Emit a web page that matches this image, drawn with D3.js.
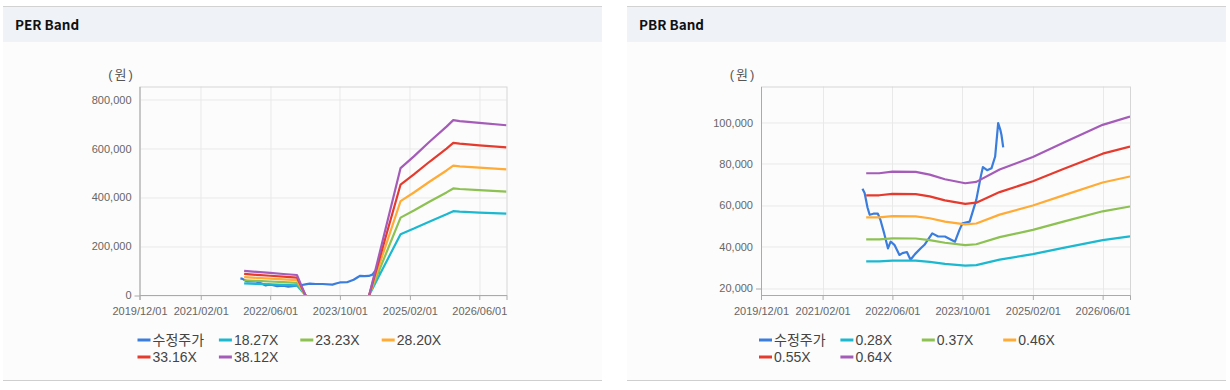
<!DOCTYPE html>
<meta charset="utf-8">
<style>
	body { margin: 0; background: #fff; }
	svg text { font-family: "Liberation Sans", Arial, "Noto Sans CJK KR", sans-serif; }
	.title { font-family: "Noto Sans CJK KR", "Noto Sans", sans-serif !important; font-weight: bold; font-size: 13.5px; fill: #111; }
	.axis text { font-size: 11px; fill: #666; }
	.grid line { stroke: #e9e9e9; }
	.legend text { font-size: 14px; fill: #444; }
</style>

<svg width="1230" height="390"></svg>

<script src="https://cdn.jsdelivr.net/npm/d3@7"></script>
<script>

	// 수정주가 (PER / PBR 공용)
	var price = [
		["2021-11-05", 68000], ["2021-11-20", 66000], ["2021-12-10", 59000], ["2021-12-25", 55500],
		["2022-01-20", 56000], ["2022-02-20", 56000], ["2022-03-10", 53000], ["2022-04-05", 46500],
		["2022-05-01", 39300], ["2022-05-20", 42500], ["2022-06-15", 41000], ["2022-07-20", 36100],
		["2022-08-10", 37000], ["2022-09-10", 37500], ["2022-10-05", 33800], ["2022-11-05", 36500],
		["2022-12-15", 39300], ["2023-01-10", 41000], ["2023-02-01", 43300], ["2023-03-05", 46500],
		["2023-04-15", 45000], ["2023-06-01", 45000], ["2023-08-10", 42500], ["2023-09-10", 48200],
		["2023-10-01", 51400], ["2023-11-20", 52200], ["2024-01-05", 62700], ["2024-02-05", 73900],
		["2024-02-20", 78500], ["2024-03-20", 77000], ["2024-04-20", 78000], ["2024-05-15", 83600],
		["2024-06-05", 99700], ["2024-06-20", 96500], ["2024-06-28", 94000], ["2024-07-10", 88000]
	];

	// EPS (원)
	var eps = [
		["2021-12-01", 2600], ["2022-03-01", 2480], ["2022-06-01", 2380], ["2022-09-01", 2260],
		["2022-12-05", 2150], ["2023-03-01", -1000], ["2024-04-07", -1000], ["2024-11-28", 13650],
		["2025-03-01", 14900], ["2025-06-20", 16500], ["2025-10-15", 18100], ["2025-12-01", 18800],
		["2026-01-15", 18700], ["2026-06-01", 18500], ["2026-12-08", 18250]
	];

	// BPS (원)
	var bps = [
		["2021-12-01", 118000], ["2022-03-01", 118000], ["2022-06-01", 119200], ["2022-11-10", 119000],
		["2023-02-15", 117000], ["2023-06-01", 113500], ["2023-10-20", 110500], ["2024-01-05", 111500],
		["2024-06-15", 120800], ["2025-02-01", 130300], ["2025-09-01", 141000], ["2026-06-01", 154500],
		["2026-12-08", 160800]
	];

	var perMultiples = [18.27, 23.23, 28.20, 33.16, 38.12];
	var pbrMultiples = [0.28, 0.37, 0.46, 0.55, 0.64];

	var dateTicks = ["2019-12-01", "2021-02-01", "2022-06-01", "2023-10-01", "2025-02-01", "2026-06-01"];
	var dateDomain = ["2019-12-01", "2026-12-08"];
	var perTicks = [0, 200000, 400000, 600000, 800000];
	var pbrTicks = [20000, 40000, 60000, 80000, 100000];

	var colors = ["#3b7ddd", "#1cb8cf", "#8dc152", "#ffab35", "#e53b2e", "#a45cb8"];

	var parse = d3.timeParse("%Y-%m-%d");
	var svg = d3.select("svg");

	function drawPanel(opt) {
		var p = svg.append("g").attr("transform", "translate(" + opt.left + ",0)");

		// 패널 배경 + 헤더
		p.append("rect").attr("x", 0).attr("y", 6).attr("width", 599).attr("height", 375).attr("fill", "#fcfcfc");
		p.append("rect").attr("x", 0).attr("y", 6).attr("width", 599).attr("height", 36).attr("fill", "#eff3f8");
		p.append("line").attr("x1", 0).attr("x2", 599).attr("y1", 6.5).attr("y2", 6.5).attr("stroke", "#d2d2d2");
		p.append("line").attr("x1", 0).attr("x2", 599).attr("y1", 380.5).attr("y2", 380.5).attr("stroke", "#cfcfcf");
		p.append("text").attr("class", "title").attr("x", 12).attr("y", 30).text(opt.title);

		var margin = {left: opt.plotLeft, top: 86.5, width: opt.plotWidth, height: 208.5};
		var g = p.append("g").attr("transform", "translate(" + margin.left + "," + margin.top + ")");
		var width = margin.width, height = margin.height;

		var x = d3.scaleTime().domain(dateDomain.map(parse)).range([0, width]);
		var y = d3.scaleLinear().domain(opt.yDomain).range([height, 0]);

		// 그리드
		g.append("g").attr("class", "grid")
			.selectAll("line.v").data(dateTicks.map(parse)).enter().append("line")
			.attr("x1", function(d) { return Math.round(x(d)) + 0.5; })
			.attr("x2", function(d) { return Math.round(x(d)) + 0.5; })
			.attr("y1", 0).attr("y2", height);
		g.append("g").attr("class", "grid")
			.selectAll("line.h").data(opt.yTicks).enter().append("line")
			.attr("x1", 0).attr("x2", width)
			.attr("y1", function(d) { return Math.round(y(d)) + 0.5; })
			.attr("y2", function(d) { return Math.round(y(d)) + 0.5; });

		// 테두리
		g.append("rect").attr("x", 0.5).attr("y", 0.5).attr("width", width).attr("height", height)
			.attr("fill", "none").attr("stroke", "#d6d6d6");

		// 축
		var xAxis = g.append("g").attr("class", "axis")
			.attr("transform", "translate(0," + height + ")")
			.call(d3.axisBottom(x).tickValues(dateTicks.map(parse)).tickFormat(d3.timeFormat("%Y/%m/%d")).tickSize(5).tickPadding(7));
		var yAxis = g.append("g").attr("class", "axis")
			.call(d3.axisLeft(y).tickValues(opt.yTicks).tickFormat(d3.format(",")).tickSize(0).tickPadding(8));
		g.selectAll(".axis .domain").attr("stroke", "#aaa");
		xAxis.selectAll(".tick line").attr("stroke", "#aaa");
		g.append("line").attr("x1", -5).attr("x2", 0)
			.attr("y1", Math.round(y(opt.yTicks[0])) + 0.5).attr("y2", Math.round(y(opt.yTicks[0])) + 0.5)
			.attr("stroke", "#aaa");

		p.append("text").attr("x", opt.plotLeft - 18).attr("y", 79).attr("text-anchor", "middle")
			.attr("font-size", 13).attr("fill", "#555").attr("letter-spacing", "2px").text("(원)");

		// 라인
		var clipId = "clip" + opt.left;
		g.append("clipPath").attr("id", clipId).append("rect").attr("width", width).attr("height", height);
		var line = d3.line().x(function(d) { return x(parse(d[0])); }).y(function(d) { return y(d[1]); });

		var series = [{name: "수정주가", values: price}].concat(opt.multiples.map(function(m) {
			return {name: opt.fmt(m) + "X", values: opt.base.map(function(d) { return [d[0], d[1] * m]; })};
		}));

		g.append("g").attr("clip-path", "url(#" + clipId + ")")
			.selectAll("path").data(series).enter().append("path")
			.attr("d", function(d) { return line(d.values); })
			.attr("fill", "none")
			.attr("stroke", function(d, i) { return colors[i]; })
			.attr("stroke-width", 2.2)
			.attr("stroke-linejoin", "round");

		// 범례
		var legend = p.append("g").attr("class", "legend")
			.selectAll("g").data(series).enter().append("g")
			.attr("transform", function(d, i) {
				return "translate(" + (opt.plotLeft - 2 + (i % 4) * 81.4) + "," + (i < 4 ? 340 : 357) + ")";
			});
		legend.append("rect").attr("x", 0).attr("y", -1.5).attr("width", 13).attr("height", 3)
			.attr("fill", function(d, i) { return colors[i]; });
		legend.append("text").attr("x", 15).attr("y", 5).text(function(d) { return d.name; });
	}

	drawPanel({left: 3, title: "PER Band", plotLeft: 136.5, plotWidth: 367, yDomain: [0, 854600],
		yTicks: perTicks, multiples: perMultiples, base: eps, fmt: d3.format(".2f")});
	drawPanel({left: 627, title: "PBR Band", plotLeft: 134, plotWidth: 369, yDomain: [16770, 117400],
		yTicks: pbrTicks, multiples: pbrMultiples, base: bps, fmt: d3.format(".2f")});

</script>
